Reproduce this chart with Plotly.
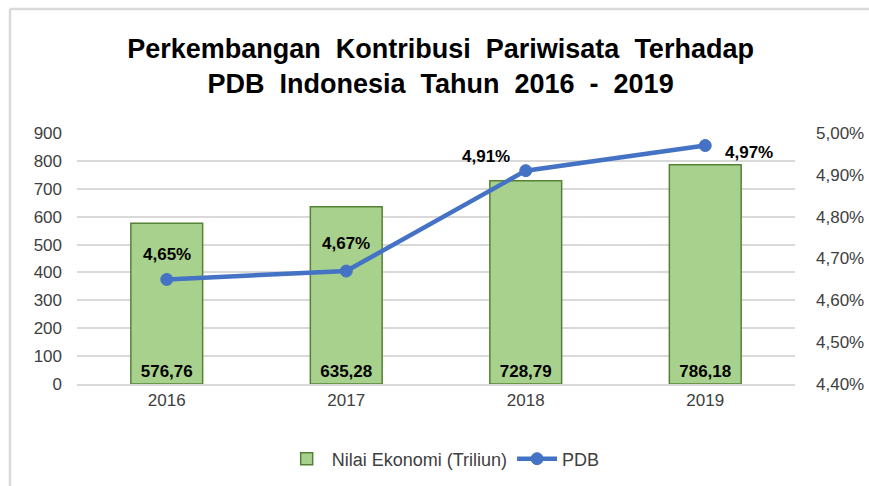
import plotly.graph_objects as go

years = ["2016", "2017", "2018", "2019"]
nilai = [576.76, 635.28, 728.79, 786.18]
pdb = [0.0465, 0.0467, 0.0491, 0.0497]
nilai_labels = ["576,76", "635,28", "728,79", "786,18"]
pdb_labels = ["4,65%", "4,67%", "4,91%", "4,97%"]
left_ticks = [0, 100, 200, 300, 400, 500, 600, 700, 800, 900]
right_ticks = [0.044, 0.045, 0.046, 0.047, 0.048, 0.049, 0.050]

FONT = "Liberation Sans"
W, H = 869, 486
L, R, T, B = 77, 74, 133, 102
PW, PH = W - L - R, H - T - B

fig = go.Figure()
fig.add_trace(go.Bar(
    x=years, y=nilai, name="Nilai Ekonomi (Triliun)",
    marker=dict(color="#A9D18E", line=dict(color="#548235", width=1.5)),
    width=0.4,
    text=nilai_labels, textposition="inside", insidetextanchor="start",
    textfont=dict(family=FONT, size=17, color="black", weight="bold"),
    textangle=0,
    hoverinfo="skip",
))
fig.add_trace(go.Scatter(
    x=years, y=pdb, name="PDB", yaxis="y2", mode="lines+markers",
    line=dict(color="#4472C4", width=4.5),
    marker=dict(symbol="circle", size=12, color="#4472C4",
                line=dict(color="#4472C4", width=1)),
))

# line labels (x given as category index)
shifts = [(0, 25), (0, 28), (-40, 14), (44, -7)]
for i, (v, lab, (dx, dy)) in enumerate(zip(pdb, pdb_labels, shifts)):
    fig.add_annotation(x=i, y=v, xref="x", yref="y2", text="<b>" + lab + "</b>",
                       showarrow=False, xshift=dx, yshift=dy,
                       font=dict(family=FONT, size=17, color="black"))

fig.update_layout(
    width=W, height=H,
    margin=dict(l=L, r=R, t=T, b=B, autoexpand=False),
    paper_bgcolor="white", plot_bgcolor="white",
    separators=",.",
    title=dict(text="<b>Perkembangan  Kontribusi  Pariwisata  Terhadap<br>PDB  Indonesia  Tahun  2016  -  2019</b>",
               x=0.507, xanchor="center", y=1 - 58 / H, yanchor="top",
               font=dict(family=FONT, size=27, color="black")),
    bargap=0.6,
    showlegend=True,
    legend=dict(orientation="h", x=0.51, xanchor="center", y=-0.225, yanchor="top",
                font=dict(family=FONT, size=18, color="#404040"),
                traceorder="normal", itemwidth=40),
    xaxis=dict(type="category", range=[-0.5, 3.5], showgrid=False, showline=True,
               linecolor="#D9D9D9", linewidth=1.5,
               ticks="", tickfont=dict(family=FONT, size=17, color="#404040")),
    yaxis=dict(range=[0, 900], tickvals=left_ticks, showgrid=True, gridcolor="#D9D9D9",
               gridwidth=1.5, zeroline=False, showline=False, ticks="",
               tickfont=dict(family=FONT, size=17, color="#404040"), ticklabelstandoff=14),
    yaxis2=dict(range=[0.044, 0.050], tickvals=right_ticks, tickformat=".2%",
                overlaying="y", side="right", showgrid=False, zeroline=False,
                showline=False, ticks="",
                tickfont=dict(family=FONT, size=17, color="#404040"), ticklabelstandoff=20),
)

# outer frame lines (left and top) as in the reference
fx0 = (10 - L) / PW
fy1 = 1 + (T - 9) / PH
fy0 = -B / PH
fig.add_shape(type="line", xref="paper", yref="paper", x0=fx0, x1=fx0, y0=fy0, y1=fy1,
              line=dict(color="#D9D9D9", width=2.5), layer="below")
fig.add_shape(type="line", xref="paper", yref="paper", x0=fx0, x1=(W - L) / PW, y0=fy1, y1=fy1,
              line=dict(color="#D9D9D9", width=2.5), layer="below")

fig.write_html("out.html", config={"displayModeBar": False},
               post_script="document.body.style.margin='0';")
